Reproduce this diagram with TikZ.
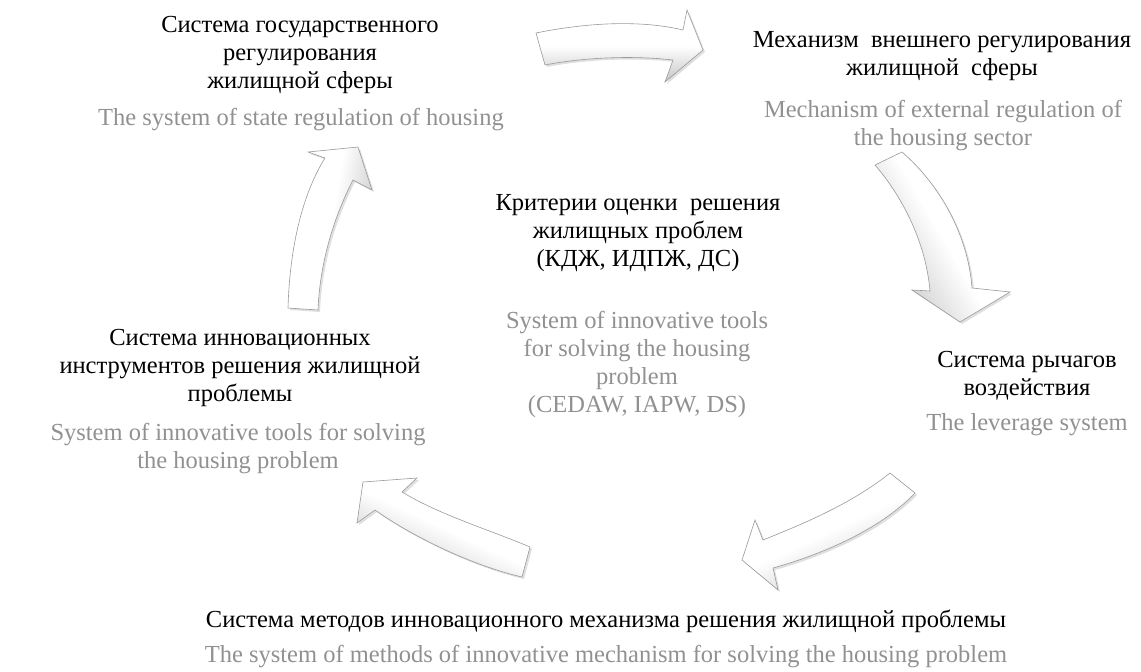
\documentclass[tikz,border=0pt]{standalone}
\usepackage{fontspec}
\setmainfont{Liberation Serif}
\newfontfamily\rufont{Liberation Serif}
\usepackage{xcolor}
\usepackage{tikz}
\usetikzlibrary{shadows}

\definecolor{entext}{RGB}{145,145,145}

\begin{document}
\begin{tikzpicture}[x=1pt, y=-1pt,
    ru/.style={align=center, inner sep=0pt, anchor=base, font=\rufont\fontsize{24.5}{28}\selectfont},
    en/.style={ru, text=entext},
    barrow/.style={draw=gray!80, line width=0.6pt, shading=axis,
        top color=white, bottom color=gray!45, middle color=white,
        shading angle=#1,
        drop shadow={opacity=0.25, shadow xshift=2pt, shadow yshift=-2pt}}]
    \useasboundingbox (0,0) rectangle (1141,672);

    % Подписи (base = последняя строка)
    \node[ru] (stateRu) at (300,88) {Система государственного\\регулирования\\жилищной сферы};
    \node[en] (stateEn) at (301,125) {The system of state regulation of housing};

    \node[ru] (extRu) at (942,75) {Механизм\ \ внешнего регулирования\\жилищной\ \ сферы};
    \node[en] (extEn) at (943,145) {Mechanism of external regulation of\\the housing sector};

    \node[ru] (critRu) at (638,266) {Критерии оценки\ \ решения\\жилищных проблем\\(КДЖ, ИДПЖ, ДС)};
    \node[en] (critEn) at (637,412) {System of innovative tools\\for solving the housing\\problem\\(CEDAW, IAPW, DS)};

    \node[ru] (levRu) at (1027,395) {Система рычагов\\воздействия};
    \node[en] (levEn) at (1027,430) {The leverage system};

    \node[ru] (innRu) at (240,401) {Система инновационных\\инструментов решения жилищной\\проблемы};
    \node[en] (innEn) at (238,468) {System of innovative tools for solving\\the housing problem};

    \node[ru] (methRu) at (606,627) {Система методов инновационного механизма решения жилищной проблемы};
    \node[en] (methEn) at (606,662) {The system of methods of innovative mechanism for solving the housing problem};

    % Стрелки по кругу
    \draw[barrow=0] (536,33) .. controls (600,20) and (650,22) .. (683,30)
        -- (687,10) -- (703,50) -- (665,82) -- (673,60)
        .. controls (630,55) and (580,58) .. (545,65) -- cycle;
    \draw[barrow=-60] (875,165) .. controls (905,200) and (926,245) .. (930,291)
        -- (912,290) -- (960,322) -- (1010,292) -- (972,288)
        .. controls (968,235) and (940,185) .. (902,152) -- cycle;
    \draw[barrow=25] (890,473) .. controls (850,505) and (800,525) .. (763,540)
        -- (755,520) -- (742,560) -- (778,590) -- (773,568)
        .. controls (820,555) and (880,530) .. (915,493) -- cycle;
    \draw[barrow=-25] (522,577) .. controls (470,565) and (410,535) .. (375,510)
        -- (357,523) -- (363,482) -- (417,478) -- (402,492)
        .. controls (440,515) and (490,530) .. (530,547) -- cycle;
    \draw[barrow=80] (288,308) .. controls (290,240) and (305,190) .. (325,158)
        -- (308,152) -- (358,147) -- (372,190) -- (353,180)
        .. controls (335,215) and (320,260) .. (318,310) -- cycle;
\end{tikzpicture}
\end{document}
